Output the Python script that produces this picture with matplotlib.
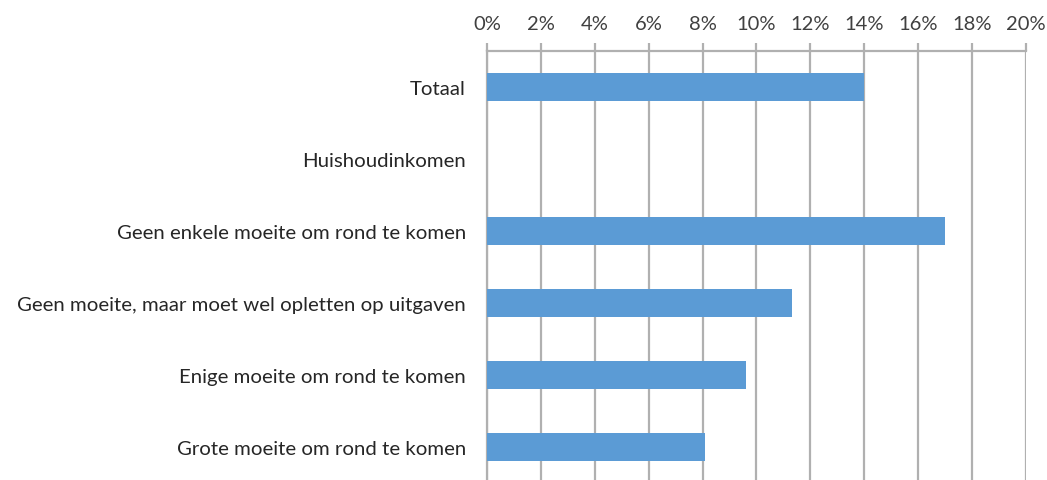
import matplotlib.pyplot as plt
from matplotlib.ticker import PercentFormatter

categories = [
    "Totaal",
    "Huishoudinkomen",
    "Geen enkele moeite om rond te komen",
    "Geen moeite, maar moet wel opletten op uitgaven",
    "Enige moeite om rond te komen",
    "Grote moeite om rond te komen",
]
values = [14.0, None, 17.0, 11.3, 9.6, 8.1]
ticks = list(range(0, 21, 2))

plt.rcParams['font.family'] = ['Lato', 'DejaVu Sans']

fig = plt.figure(figsize=(10.47, 4.81), dpi=100)
ax = fig.add_axes([0.465, -0.006, 0.515, 0.898])

grid_c = "#b0b0b0"
ypos = list(range(len(categories)))
for y, v in zip(ypos, values):
    if v is not None:
        ax.barh(y, v, height=0.39, color="#5b9bd5", zorder=3)

ax.set_xlim(0, 20)
ax.set_ylim(len(categories) - 0.5, -0.5)
ax.set_xticks(ticks)
ax.xaxis.set_major_formatter(PercentFormatter(decimals=0))
ax.xaxis.tick_top()
ax.set_yticks(ypos)
ax.set_yticklabels(categories)

ax.grid(axis="x", color=grid_c, linewidth=1.6, zorder=0)
for s in ["right", "bottom"]:
    ax.spines[s].set_visible(False)
ax.spines["top"].set_color(grid_c)
ax.spines["top"].set_linewidth(1.6)
ax.spines["left"].set_color(grid_c)
ax.spines["left"].set_linewidth(1.6)

ax.tick_params(axis="x", which="both", top=True, bottom=False, length=6, width=1.6,
               color=grid_c, labelsize=14.5, labelcolor="#404040", pad=8)
ax.tick_params(axis="y", length=0, labelsize=14.7, labelcolor="#262626", pad=15)

fig.savefig("out.png", dpi=100)
